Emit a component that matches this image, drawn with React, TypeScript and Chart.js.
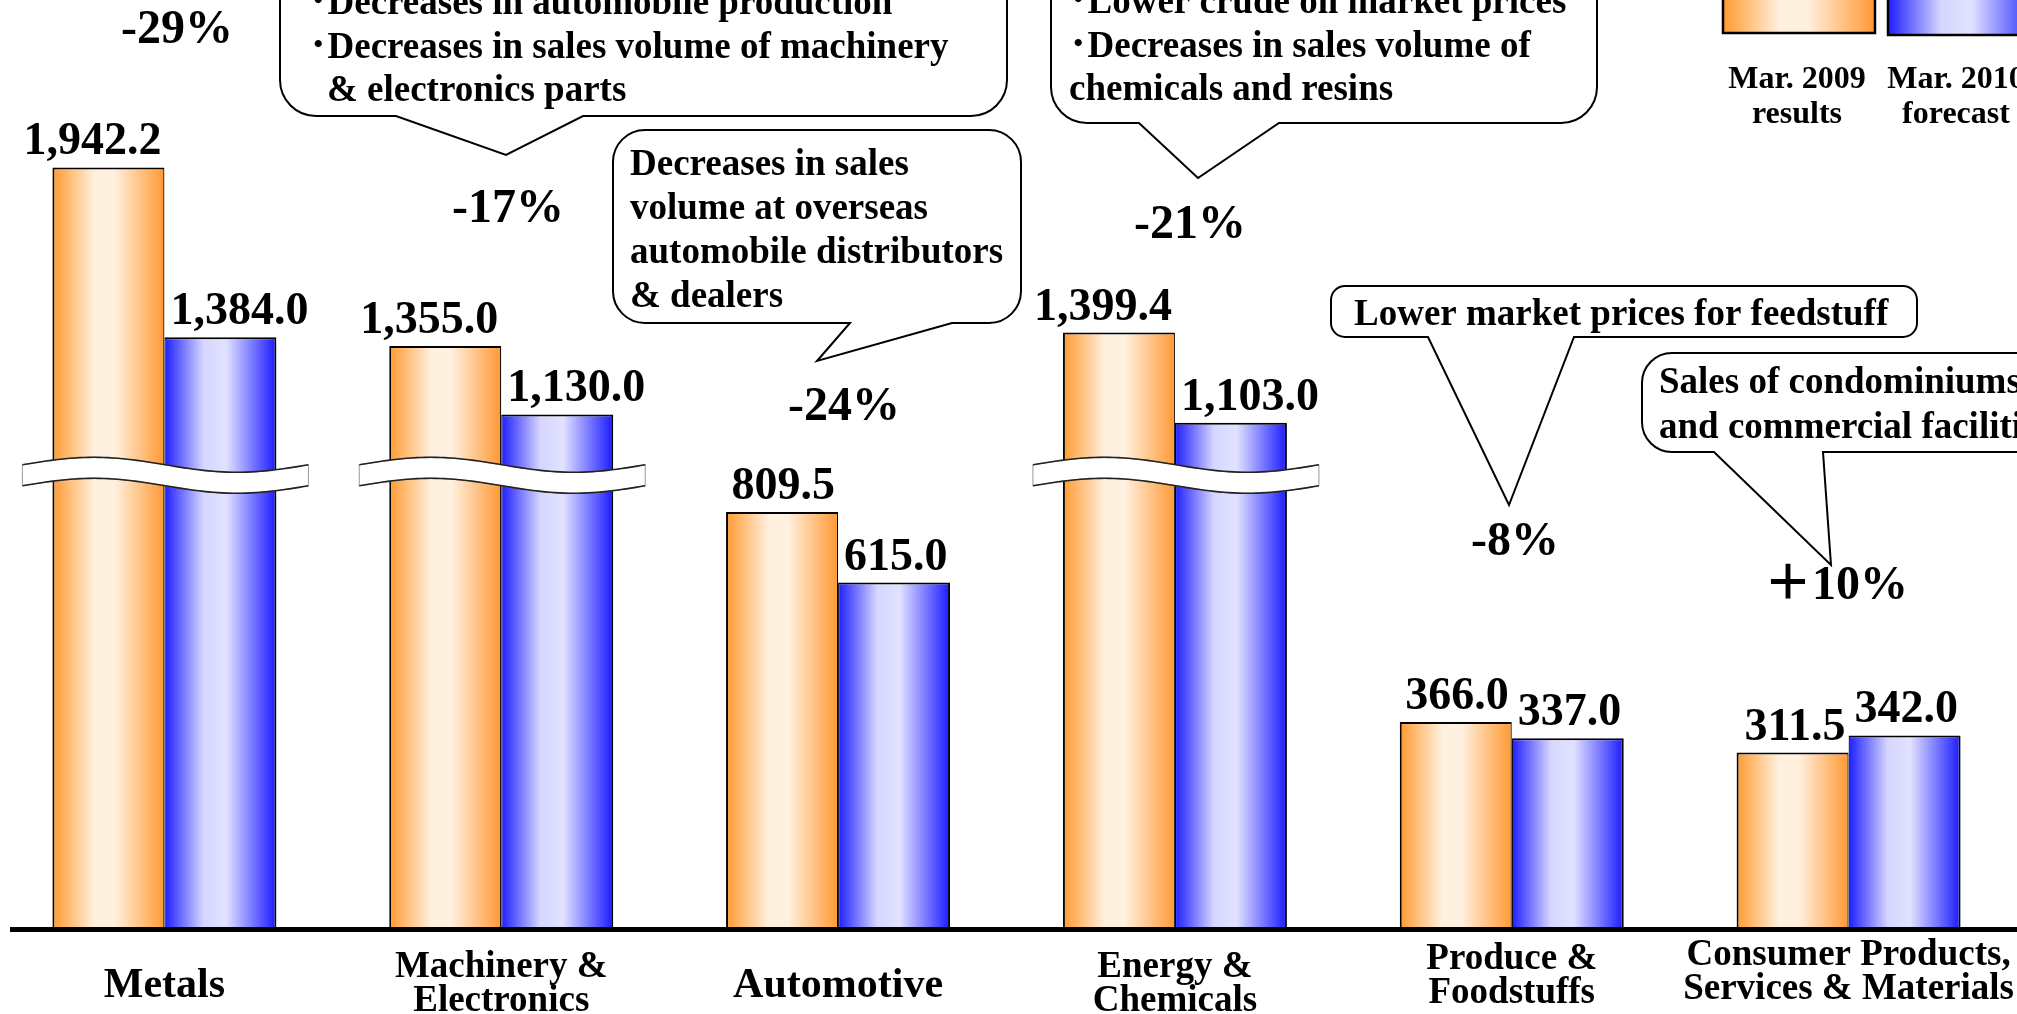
import React, { useEffect, useRef } from 'react';
import { Chart, registerables, LinearScale } from 'chart.js';

Chart.register(...registerables);

// ---------------- DATA ----------------
const CATEGORIES: string[][] = [
  ['Metals'],
  ['Machinery &', 'Electronics'],
  ['Automotive'],
  ['Energy &', 'Chemicals'],
  ['Produce &', 'Foodstuffs'],
  ['Consumer Products,', 'Services & Materials'],
];
const SERIES_LABELS: string[][] = [
  ['Mar. 2009', 'results'],
  ['Mar. 2010', 'forecast'],
];
const RESULTS_2009 = [1942.2, 1355.0, 809.5, 1399.4, 366.0, 311.5];
const FORECAST_2010 = [1384.0, 1130.0, 615.0, 1103.0, 337.0, 342.0];

const CALLOUT_TEXTS: string[][] = [
  ['･Decreases in automobile production', '･Decreases in sales volume of machinery', '& electronics parts'],
  ['Decreases in sales', 'volume at overseas', 'automobile distributors', '& dealers'],
  ['･Lower crude oil market prices', '･Decreases in sales volume of', 'chemicals and resins'],
  ['Lower market prices for feedstuff'],
  ['Sales of condominiums', 'and commercial facilities'],
];

// ---------------- SCALE (broken axis) ----------------
const BREAK_VALUE = 660;
const UPPER_RATIO = 0.543;
const Y_AXIS_TOP = 2493;
const BREAK_MARK_VALUE = 930;
const toAxisUnits = (v: number) => (v <= BREAK_VALUE ? v : BREAK_VALUE + (v - BREAK_VALUE) * UPPER_RATIO);
const fromAxisUnits = (u: number) => (u <= BREAK_VALUE ? u : BREAK_VALUE + (u - BREAK_VALUE) / UPPER_RATIO);

class BrokenLinearScale extends (LinearScale as any) {
  static id = 'brokenLinear';
  static defaults = (LinearScale as any).defaults;
  getPixelForValue(value: any) {
    if (value === null || value === undefined || isNaN(value)) return super.getPixelForValue(value);
    return super.getPixelForValue(toAxisUnits(value));
  }
  getValueForPixel(pixel: number) {
    return fromAxisUnits(super.getValueForPixel(pixel));
  }
}
Chart.register(BrokenLinearScale as any);

// ---------------- STYLE / LAYOUT ----------------
const FONT = '"Liberation Serif", "Times New Roman", "Noto Sans CJK JP", serif';
const OFFSET_X = 4; // canvas x = page x + OFFSET_X
const CANVAS_W = 2021;
const CANVAS_H = 1014;
const CAT_PCT = 0.665;

const ORANGE_STOPS: [number, string][] = [
  [0, '#FF9A30'],
  [0.38, '#FFF1E0'],
  [0.55, '#FFF1E0'],
  [1, '#FF9933'],
];
const BLUE_STOPS: [number, string][] = [
  [0, '#1E1EFF'],
  [0.35, '#D6D6FF'],
  [0.55, '#E2E2FF'],
  [1, '#1A1AFF'],
];
const STOPS = [ORANGE_STOPS, BLUE_STOPS];

const CALLOUT_LAYOUT = [
  { box: [280, -80, 1007, 116], r: 36, tail: [[583, 116], [506, 155], [396, 116]], x: [309, 309, 327], y: [14, 58, 101] },
  { box: [613, 130, 1021, 323], r: 32, tail: [[952, 323], [817, 361], [850, 323]], x: [630, 630, 630, 630], y: [175, 219, 263, 307] },
  { box: [1051, -80, 1597, 123], r: 36, tail: [[1279, 123], [1198, 178], [1139, 123]], x: [1069, 1069, 1069], y: [13, 57, 100] },
  { box: [1331, 286, 1917, 337], r: 14, tail: [[1574, 337], [1509, 505], [1428, 337]], x: [1354], y: [325] },
  { box: [1642, 353, 2120, 452], r: 30, tail: [[1823, 452], [1831, 565], [1714, 452]], x: [1659, 1659], y: [393, 438] },
];
const PCT_POS = [[177, 31], [508, 210], [844, 408], [1190, 226], [1515, 543], [1836, 587]];
const CAT_LABEL_Y = [997, 977, 997, 977, 969, 965];
const LEGEND_BOXES = [[1723, -40, 1875, 33], [1888, -40, 2040, 35]];
const LEGEND_TEXT_X = [1797, 1956];
const LEGEND_TEXT_Y = [88, 123];

function makeGrad(ctx: CanvasRenderingContext2D, left: number, width: number, stops: [number, string][]) {
  const g = ctx.createLinearGradient(left, 0, left + width, 0);
  stops.forEach(([o, c]) => g.addColorStop(o, c));
  return g;
}

function barFill(c: any) {
  const chart = c.chart;
  const di = c.datasetIndex ?? 0;
  const stops = STOPS[di];
  const xs = chart.scales && chart.scales.x;
  if (c.type !== 'data' || !xs || !xs.width) return stops[0][1];
  const center = xs.getPixelForValue(c.dataIndex);
  const size = (xs.width / chart.data.labels.length) * CAT_PCT;
  const left = center - size / 2 + (di * size) / 2;
  return makeGrad(chart.ctx, left, size / 2, stops);
}

const fmtValue = (v: number) => v.toLocaleString('en-US', { minimumFractionDigits: 1, maximumFractionDigits: 1 });
const fmtPct = (a: number, b: number) => {
  const p = Math.round(((b - a) / a) * 100);
  return p > 0 ? '＋' + p + '%' : '-' + Math.abs(p) + '%';
};

function drawBubble(ctx: CanvasRenderingContext2D, L: any) {
  const [l, t, r, b] = L.box;
  const rad = L.r;
  ctx.beginPath();
  ctx.moveTo(l + rad, t);
  ctx.lineTo(r - rad, t);
  ctx.arcTo(r, t, r, t + rad, rad);
  ctx.lineTo(r, b - rad);
  ctx.arcTo(r, b, r - rad, b, rad);
  for (const [px, py] of L.tail) ctx.lineTo(px, py);
  ctx.lineTo(l + rad, b);
  ctx.arcTo(l, b, l, b - rad, rad);
  ctx.lineTo(l, t + rad);
  ctx.arcTo(l, t, l + rad, t, rad);
  ctx.closePath();
  ctx.fillStyle = '#fff';
  ctx.fill();
  ctx.lineWidth = 2;
  ctx.strokeStyle = '#000';
  ctx.stroke();
}

function drawBreak(ctx: CanvasRenderingContext2D, x0: number, x1: number, yc: number) {
  const amp = 7.5;
  const thick = 21;
  const N = 60;
  const top: number[][] = [];
  const bot: number[][] = [];
  for (let i = 0; i <= N; i++) {
    const t = i / N;
    const x = x0 + (x1 - x0) * t;
    const w = amp * Math.sin(2 * Math.PI * t);
    top.push([x, yc - thick / 2 - w]);
    bot.push([x, yc + thick / 2 - w]);
  }
  ctx.beginPath();
  top.forEach(([x, y], i) => (i ? ctx.lineTo(x, y) : ctx.moveTo(x, y)));
  for (let i = bot.length - 1; i >= 0; i--) ctx.lineTo(bot[i][0], bot[i][1]);
  ctx.closePath();
  ctx.fillStyle = '#fff';
  ctx.fill();
  ctx.strokeStyle = '#999';
  ctx.lineWidth = 1;
  ctx.stroke();
  ctx.strokeStyle = '#222';
  ctx.lineWidth = 1.6;
  [top, bot].forEach((pts) => {
    ctx.beginPath();
    pts.forEach(([x, y], i) => (i ? ctx.lineTo(x, y) : ctx.moveTo(x, y)));
    ctx.stroke();
  });
}

const annotationsPlugin = {
  id: 'annotations',
  afterDraw(chart: any) {
    const ctx: CanvasRenderingContext2D = chart.ctx;
    const xs = chart.scales.x;
    const ys = chart.scales.y;
    const n = CATEGORIES.length;
    const barW = ((xs.width / n) * CAT_PCT) / 2;
    const base = ys.getPixelForValue(0);
    const series = chart.data.datasets.map((d: any) => d.data as number[]);
    ctx.save();

    // break marks
    for (let i = 0; i < n; i++) {
      const mx = Math.max(series[0][i], series[1][i]);
      if (mx > BREAK_MARK_VALUE) {
        const c = xs.getPixelForValue(i);
        drawBreak(ctx, c - barW - 30, c + barW + 32, ys.getPixelForValue(BREAK_MARK_VALUE));
      }
    }

    // axis line
    ctx.fillStyle = '#000';
    ctx.fillRect(10 + OFFSET_X, base, chart.width, 5);

    // value labels
    ctx.fillStyle = '#000';
    ctx.textBaseline = 'alphabetic';
    ctx.font = 'bold 46px ' + FONT;
    chart.data.datasets.forEach((ds: any, di: number) => {
      const meta = chart.getDatasetMeta(di);
      meta.data.forEach((el: any, i: number) => {
        const txt = fmtValue(ds.data[i]);
        if (di === 0) {
          ctx.textAlign = 'right';
          ctx.fillText(txt, el.x + el.width / 2 - 3, el.y - 13);
        } else {
          ctx.textAlign = 'left';
          ctx.fillText(txt, el.x - el.width / 2 + 6, el.y - 13);
        }
      });
    });

    // category labels
    ctx.textAlign = 'center';
    for (let i = 0; i < n; i++) {
      const lines = CATEGORIES[i];
      const cx = xs.getPixelForValue(i);
      ctx.font = (lines.length > 1 ? 'bold 37px ' : 'bold 42px ') + FONT;
      lines.forEach((ln, k) => ctx.fillText(ln, cx, CAT_LABEL_Y[i] + k * 34));
    }

    ctx.translate(OFFSET_X, 0);

    // percent labels
    ctx.font = 'bold 48px ' + FONT;
    ctx.textAlign = 'center';
    ctx.textBaseline = 'middle';
    for (let i = 0; i < n; i++) {
      ctx.fillText(fmtPct(series[0][i], series[1][i]), PCT_POS[i][0], PCT_POS[i][1]);
    }

    // callouts
    CALLOUT_LAYOUT.forEach((L, k) => {
      drawBubble(ctx, L);
      ctx.fillStyle = '#000';
      ctx.font = 'bold 37px ' + FONT;
      ctx.textAlign = 'left';
      ctx.textBaseline = 'alphabetic';
      CALLOUT_TEXTS[k].forEach((ln, j) => ctx.fillText(ln, L.x[j], L.y[j]));
    });

    // legend
    LEGEND_BOXES.forEach((b, k) => {
      const [l, t, r, bt] = b;
      ctx.fillStyle = makeGrad(ctx, l, r - l, STOPS[k]);
      ctx.fillRect(l, t, r - l, bt - t);
      ctx.lineWidth = 2.5;
      ctx.strokeStyle = '#000';
      ctx.strokeRect(l, t, r - l, bt - t);
      ctx.fillStyle = '#000';
      ctx.font = 'bold 32px ' + FONT;
      ctx.textAlign = 'center';
      SERIES_LABELS[k].forEach((ln, j) => ctx.fillText(ln, LEGEND_TEXT_X[k], LEGEND_TEXT_Y[j]));
    });

    ctx.restore();
  },
};

export default function App() {
  const ref = useRef<HTMLCanvasElement | null>(null);
  useEffect(() => {
    if (!ref.current) return;
    const chart = new Chart(ref.current, {
      type: 'bar',
      data: {
        labels: CATEGORIES as any,
        datasets: [
          {
            label: SERIES_LABELS[0].join(' '),
            data: RESULTS_2009,
            backgroundColor: barFill as any,
            borderColor: '#000',
            borderWidth: { top: 2, left: 2, right: 1.2, bottom: 0 } as any,
            borderSkipped: false,
          },
          {
            label: SERIES_LABELS[1].join(' '),
            data: FORECAST_2010,
            backgroundColor: barFill as any,
            borderColor: '#000',
            borderWidth: { top: 2, left: 1.2, right: 2, bottom: 0 } as any,
            borderSkipped: false,
          },
        ],
      },
      options: {
        responsive: false,
        animation: false,
        events: [],
        layout: { padding: { left: 0, right: 0, top: 0, bottom: 87 } },
        datasets: { bar: { categoryPercentage: CAT_PCT, barPercentage: 1 } } as any,
        scales: {
          x: { display: false, grid: { display: false } },
          y: { type: 'brokenLinear' as any, display: false, min: 0, max: toAxisUnits(Y_AXIS_TOP) },
        },
        plugins: { legend: { display: false }, tooltip: { enabled: false } },
      },
      plugins: [annotationsPlugin],
    });
    return () => chart.destroy();
  }, []);
  return (
    <div style={{ position: 'fixed', left: -OFFSET_X, top: 0, width: CANVAS_W, height: CANVAS_H, background: '#fff' }}>
      <canvas ref={ref} width={CANVAS_W} height={CANVAS_H} style={{ display: 'block', width: CANVAS_W, height: CANVAS_H }} />
    </div>
  );
}
